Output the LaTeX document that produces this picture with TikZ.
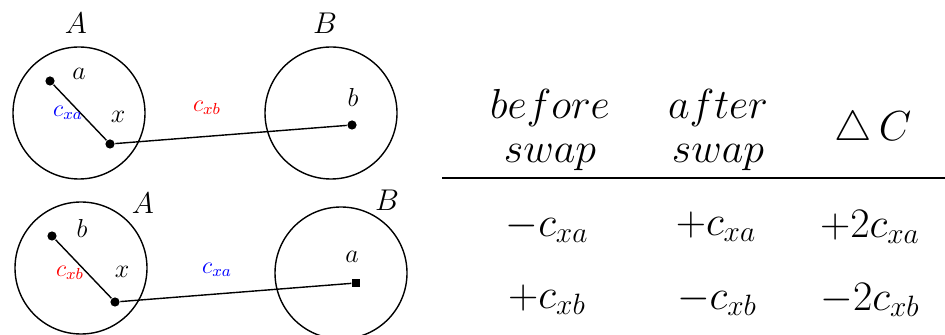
\RequirePackage{fix-cm}
\documentclass[tikz,border=0pt]{standalone}
\usepackage{tikz}

\begin{document}
\begin{tikzpicture}[x=0.5pt,y=-0.5pt,line width=0.7pt,
  region/.style={draw,circle,minimum size=66pt,inner sep=0pt},
  vtx/.style={circle,fill,inner sep=0pt,minimum size=4.6pt},
  vtxsq/.style={rectangle,fill,inner sep=0pt,minimum size=4pt},
  setlbl/.style={font=\fontsize{15}{18}\selectfont},
  lbl/.style={font=\fontsize{13}{15}\selectfont},
  cost/.style={font=\fontsize{12}{14}\selectfont},
  tab/.style={font=\fontsize{21}{22}\selectfont,align=center}]
\useasboundingbox (0,0) rectangle (945,335);
% before the swap
\node[region] (A1) at (79,113) {};
\node[region] (B1) at (331,113) {};
\node[setlbl] (lA1) at (76,23) {$A$};
\node[setlbl] (lB1) at (325,23) {$B$};
\node[vtx] (pa1) at (50,81) {};
\node[vtx] (px1) at (110,144) {};
\node[vtx] (pb1) at (352,125) {};
\node[lbl] (la1) at (79,74) {$a$};
\node[lbl] (lx1) at (118,117) {$x$};
\node[lbl] (lb1) at (353,97) {$b$};
\draw (pa1) -- (px1);
\draw (px1) -- (pb1);
\node[cost,blue] (cxa1) at (68,113) {$c_{xa}$};
\node[cost,red] (cxb1) at (207,108) {$c_{xb}$};
% after the swap
\node[region] (A2) at (81,268) {};
\node[region] (B2) at (341,273) {};
\node[setlbl] (lA2) at (143,203) {$A$};
\node[setlbl] (lB2) at (387,200) {$B$};
\node[vtx] (pb2) at (52,236) {};
\node[vtx] (px2) at (115,302) {};
\node[vtxsq] (pa2) at (356,283) {};
\node[lbl] (lb2) at (82,228) {$b$};
\node[lbl] (lx2) at (122,272) {$x$};
\node[lbl] (la2) at (352,257) {$a$};
\draw (pb2) -- (px2);
\draw (px2) -- (pa2);
\node[cost,red] (cxb2) at (70,273) {$c_{xb}$};
\node[cost,blue] (cxa2) at (217,270) {$c_{xa}$};
% table
\node[tab] (hbefore) at (550,130) {$before$\\$swap$};
\node[tab] (hafter) at (718,130) {$after$\\$swap$};
\node[tab] (hdelta) at (873,130) {$\triangle\,C$};
\draw (442,178) -- (945,178);
\node[tab] (r1c1) at (547,227) {$-c_{xa}$};
\node[tab] (r1c2) at (716,227) {$+c_{xa}$};
\node[tab] (r1c3) at (870,227) {$+2c_{xa}$};
\node[tab] (r2c1) at (547,300) {$+c_{xb}$};
\node[tab] (r2c2) at (717,300) {$-c_{xb}$};
\node[tab] (r2c3) at (870,300) {$-2c_{xb}$};
\end{tikzpicture}
\end{document}
